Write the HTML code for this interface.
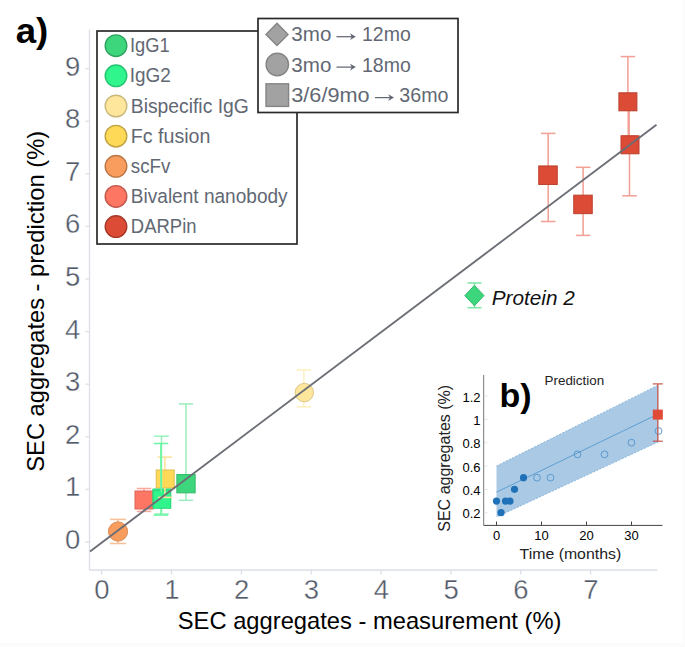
<!DOCTYPE html>
<html><head><meta charset="utf-8"><style>
html,body{margin:0;padding:0;background:#fff;width:685px;height:647px;overflow:hidden}
svg{display:block;font-family:"Liberation Sans",sans-serif}
</style></head><body>
<svg width="685" height="647" viewBox="0 0 685 647">
<rect x="0" y="0" width="685" height="647" fill="#fff"/>
<rect x="0" y="643" width="685" height="4" fill="#fbfbfb"/>
<rect x="683" y="0" width="2" height="647" fill="#fbfbfb"/>
<line x1="89.5" y1="29.5" x2="89.5" y2="570" stroke="#dcdfea" stroke-width="1.3"/>
<line x1="89" y1="570" x2="657.5" y2="570" stroke="#dcdfea" stroke-width="1.3"/>
<line x1="85.5" y1="542.0" x2="89.5" y2="542.0" stroke="#dcdfea" stroke-width="1.3"/>
<text x="80.3" y="548.9" text-anchor="end" font-size="27.5" fill="#525a68" stroke="#fff" stroke-width="0.35">0</text>
<line x1="85.5" y1="489.4" x2="89.5" y2="489.4" stroke="#dcdfea" stroke-width="1.3"/>
<text x="80.3" y="496.3" text-anchor="end" font-size="27.5" fill="#525a68" stroke="#fff" stroke-width="0.35">1</text>
<line x1="85.5" y1="436.8" x2="89.5" y2="436.8" stroke="#dcdfea" stroke-width="1.3"/>
<text x="80.3" y="443.7" text-anchor="end" font-size="27.5" fill="#525a68" stroke="#fff" stroke-width="0.35">2</text>
<line x1="85.5" y1="384.2" x2="89.5" y2="384.2" stroke="#dcdfea" stroke-width="1.3"/>
<text x="80.3" y="391.1" text-anchor="end" font-size="27.5" fill="#525a68" stroke="#fff" stroke-width="0.35">3</text>
<line x1="85.5" y1="331.6" x2="89.5" y2="331.6" stroke="#dcdfea" stroke-width="1.3"/>
<text x="80.3" y="338.5" text-anchor="end" font-size="27.5" fill="#525a68" stroke="#fff" stroke-width="0.35">4</text>
<line x1="85.5" y1="279.0" x2="89.5" y2="279.0" stroke="#dcdfea" stroke-width="1.3"/>
<text x="80.3" y="285.9" text-anchor="end" font-size="27.5" fill="#525a68" stroke="#fff" stroke-width="0.35">5</text>
<line x1="85.5" y1="226.4" x2="89.5" y2="226.4" stroke="#dcdfea" stroke-width="1.3"/>
<text x="80.3" y="233.3" text-anchor="end" font-size="27.5" fill="#525a68" stroke="#fff" stroke-width="0.35">6</text>
<line x1="85.5" y1="173.8" x2="89.5" y2="173.8" stroke="#dcdfea" stroke-width="1.3"/>
<text x="80.3" y="180.7" text-anchor="end" font-size="27.5" fill="#525a68" stroke="#fff" stroke-width="0.35">7</text>
<line x1="85.5" y1="121.2" x2="89.5" y2="121.2" stroke="#dcdfea" stroke-width="1.3"/>
<text x="80.3" y="128.1" text-anchor="end" font-size="27.5" fill="#525a68" stroke="#fff" stroke-width="0.35">8</text>
<line x1="85.5" y1="68.6" x2="89.5" y2="68.6" stroke="#dcdfea" stroke-width="1.3"/>
<text x="80.3" y="75.5" text-anchor="end" font-size="27.5" fill="#525a68" stroke="#fff" stroke-width="0.35">9</text>
<line x1="101.7" y1="570" x2="101.7" y2="574.5" stroke="#dcdfea" stroke-width="1.3"/>
<text x="102.0" y="598.6" text-anchor="middle" font-size="27.5" fill="#525a68" stroke="#fff" stroke-width="0.35">0</text>
<line x1="171.5" y1="570" x2="171.5" y2="574.5" stroke="#dcdfea" stroke-width="1.3"/>
<text x="171.8" y="598.6" text-anchor="middle" font-size="27.5" fill="#525a68" stroke="#fff" stroke-width="0.35">1</text>
<line x1="241.4" y1="570" x2="241.4" y2="574.5" stroke="#dcdfea" stroke-width="1.3"/>
<text x="241.7" y="598.6" text-anchor="middle" font-size="27.5" fill="#525a68" stroke="#fff" stroke-width="0.35">2</text>
<line x1="311.2" y1="570" x2="311.2" y2="574.5" stroke="#dcdfea" stroke-width="1.3"/>
<text x="311.5" y="598.6" text-anchor="middle" font-size="27.5" fill="#525a68" stroke="#fff" stroke-width="0.35">3</text>
<line x1="381.1" y1="570" x2="381.1" y2="574.5" stroke="#dcdfea" stroke-width="1.3"/>
<text x="381.4" y="598.6" text-anchor="middle" font-size="27.5" fill="#525a68" stroke="#fff" stroke-width="0.35">4</text>
<line x1="450.9" y1="570" x2="450.9" y2="574.5" stroke="#dcdfea" stroke-width="1.3"/>
<text x="451.2" y="598.6" text-anchor="middle" font-size="27.5" fill="#525a68" stroke="#fff" stroke-width="0.35">5</text>
<line x1="520.7" y1="570" x2="520.7" y2="574.5" stroke="#dcdfea" stroke-width="1.3"/>
<text x="521.0" y="598.6" text-anchor="middle" font-size="27.5" fill="#525a68" stroke="#fff" stroke-width="0.35">6</text>
<line x1="590.6" y1="570" x2="590.6" y2="574.5" stroke="#dcdfea" stroke-width="1.3"/>
<text x="590.9" y="598.6" text-anchor="middle" font-size="27.5" fill="#525a68" stroke="#fff" stroke-width="0.35">7</text>
<text x="177.81" y="628.50" textLength="383.65" lengthAdjust="spacingAndGlyphs" font-size="24" fill="#000">SEC aggregates - measurement (%)</text>
<text transform="translate(44.20,471.69) rotate(-90)" x="0" y="0" textLength="340.77" lengthAdjust="spacingAndGlyphs" font-size="24" fill="#000">SEC aggregates - prediction (%)</text>
<text x="15.67" y="43.20" textLength="32.56" lengthAdjust="spacingAndGlyphs" font-size="35.5" fill="#000" font-weight="bold">a)</text>
<g stroke="#f2a196" stroke-width="1.55" opacity="1"><line x1="548.2" y1="133.4" x2="548.2" y2="221.5"/><line x1="540.95" y1="133.4" x2="555.45" y2="133.4"/><line x1="540.95" y1="221.5" x2="555.45" y2="221.5"/></g>
<rect x="538.75" y="165.95" width="18.5" height="18.5" fill="#dc4b36" stroke="#bb3f2d" stroke-width="1"/>
<g stroke="#f2a196" stroke-width="1.55" opacity="1"><line x1="583.1" y1="167.3" x2="583.1" y2="235.4"/><line x1="575.85" y1="167.3" x2="590.35" y2="167.3"/><line x1="575.85" y1="235.4" x2="590.35" y2="235.4"/></g>
<rect x="573.75" y="195.15" width="18.5" height="18.5" fill="#dc4b36" stroke="#bb3f2d" stroke-width="1"/>
<g stroke="#f2a196" stroke-width="1.55" opacity="1"><line x1="627.9" y1="56.6" x2="627.9" y2="110"/><line x1="620.65" y1="56.6" x2="635.15" y2="56.6"/><line x1="620.65" y1="110" x2="635.15" y2="110"/></g>
<g stroke="#f2a196" stroke-width="1.55" opacity="1"><line x1="629.5" y1="136" x2="629.5" y2="195.8"/><line x1="622.25" y1="136" x2="636.75" y2="136"/><line x1="622.25" y1="195.8" x2="636.75" y2="195.8"/></g>
<g stroke="#f2a196" stroke-width="2.5" opacity="1"><line x1="628.7" y1="101.8" x2="628.7" y2="144.8"/></g>
<rect x="618.9" y="92.8" width="18" height="18" fill="#dc4b36" stroke="#bb3f2d" stroke-width="1"/>
<rect x="621.0" y="135.8" width="18" height="18" fill="#dc4b36" stroke="#bb3f2d" stroke-width="1"/>
<g stroke="#7fe6a6" stroke-width="1.55" opacity="1"><line x1="474.5" y1="283" x2="474.5" y2="307.7"/><line x1="467.5" y1="283" x2="481.5" y2="283"/><line x1="467.5" y1="307.7" x2="481.5" y2="307.7"/></g>
<path d="M474.4 285.40000000000003 L484.0 295.6 L474.4 305.8 L464.79999999999995 295.6 Z" fill="#3dd67c" stroke="#34b86a" stroke-width="1"/>
<text x="491.71" y="304.90" textLength="83.15" lengthAdjust="spacingAndGlyphs" font-size="21" fill="#111" font-style="italic">Protein 2</text>
<g stroke="#fdf0bf" stroke-width="1.55" opacity="1"><line x1="303.9" y1="370" x2="303.9" y2="406.8"/><line x1="296.65" y1="370" x2="311.15" y2="370"/><line x1="296.65" y1="406.8" x2="311.15" y2="406.8"/></g>
<circle cx="304.3" cy="392.6" r="9.2" fill="#fee79d" stroke="#dac687" stroke-width="1"/>
<g stroke="#f8bf98" stroke-width="1.55" opacity="1"><line x1="117.9" y1="519.4" x2="117.9" y2="543.5"/><line x1="109.9" y1="519.4" x2="125.9" y2="519.4"/><line x1="109.9" y1="543.5" x2="125.9" y2="543.5"/></g>
<circle cx="118" cy="531.5" r="9.6" fill="#f89d5e" stroke="#da8a52" stroke-width="1"/>
<g stroke="#f9a99f" stroke-width="1.55" opacity="1"><line x1="144" y1="488.5" x2="144" y2="511.4"/><line x1="136.75" y1="488.5" x2="151.25" y2="488.5"/><line x1="136.75" y1="511.4" x2="151.25" y2="511.4"/></g>
<rect x="135.0" y="491.0" width="18" height="18" fill="#fd7563" stroke="#de6657" stroke-width="1"/>
<g stroke="#fde29a" stroke-width="1.55" opacity="1"><line x1="164.9" y1="457.1" x2="164.9" y2="497.4"/><line x1="157.65" y1="457.1" x2="172.15" y2="457.1"/><line x1="157.65" y1="497.4" x2="172.15" y2="497.4"/></g>
<rect x="156.2" y="470.0" width="18" height="18" fill="#fed957" stroke="#dfbe4c" stroke-width="1"/>
<g stroke="#98f3be" stroke-width="1.55" opacity="1"><line x1="161.5" y1="436.2" x2="161.5" y2="513.9"/><line x1="154.25" y1="436.2" x2="168.75" y2="436.2"/><line x1="154.25" y1="513.9" x2="168.75" y2="513.9"/></g>
<g stroke="#6ef5a6" stroke-width="1.55" opacity="1"><line x1="161.0" y1="443.5" x2="161.0" y2="515.1"/><line x1="153.75" y1="443.5" x2="168.25" y2="443.5"/><line x1="153.75" y1="515.1" x2="168.25" y2="515.1"/></g>
<rect x="152.89999999999998" y="489.0" width="17.6" height="17.6" fill="#30f58c" stroke="#2ad77b" stroke-width="1"/>
<rect x="153.2" y="490.7" width="17.6" height="17.6" fill="#30f58c" stroke="#2ad77b" stroke-width="1"/>
<g stroke="#9eedc0" stroke-width="1.55" opacity="1"><line x1="186" y1="403.9" x2="186" y2="500.3"/><line x1="178.75" y1="403.9" x2="193.25" y2="403.9"/><line x1="178.75" y1="500.3" x2="193.25" y2="500.3"/></g>
<rect x="176.85" y="474.55" width="18.3" height="18.3" fill="#3dd67c" stroke="#34b86a" stroke-width="1"/>
<line x1="161.2" y1="443" x2="161.2" y2="492" stroke="#6ef5a6" stroke-width="1.6"/>
<line x1="164.9" y1="488" x2="164.9" y2="497.4" stroke="#fde29a" stroke-width="1.6"/><line x1="158" y1="497.4" x2="172" y2="497.4" stroke="#fde29a" stroke-width="1.6"/>
<line x1="90" y1="551.4" x2="656.5" y2="124.8" stroke="#6b6e75" stroke-width="1.9"/>
<rect x="97" y="31" width="200" height="213" fill="#fff" stroke="#2a2a2a" stroke-width="1.7"/>
<circle cx="116" cy="45.7" r="10.8" fill="#3dd67c" stroke="#2ea25e" stroke-width="1.4"/>
<text x="129.90" y="52.30" textLength="39.67" lengthAdjust="spacingAndGlyphs" font-size="19.3" fill="#626873">IgG1</text>
<circle cx="116" cy="75.85" r="10.8" fill="#30f58c" stroke="#26c470" stroke-width="1.4"/>
<text x="129.84" y="82.40" textLength="41.06" lengthAdjust="spacingAndGlyphs" font-size="19.3" fill="#626873">IgG2</text>
<circle cx="116" cy="106.0" r="10.8" fill="#fee79d" stroke="#cbb87d" stroke-width="1.4"/>
<text x="130.80" y="112.50" textLength="117.98" lengthAdjust="spacingAndGlyphs" font-size="19.3" fill="#626873">Bispecific IgG</text>
<circle cx="116" cy="136.14999999999998" r="10.8" fill="#fed957" stroke="#c1a442" stroke-width="1.4"/>
<text x="130.78" y="142.60" textLength="79.68" lengthAdjust="spacingAndGlyphs" font-size="19.3" fill="#626873">Fc fusion</text>
<circle cx="116" cy="166.3" r="10.8" fill="#f89d5e" stroke="#bc7747" stroke-width="1.4"/>
<text x="130.83" y="172.70" textLength="39.58" lengthAdjust="spacingAndGlyphs" font-size="19.3" fill="#626873">scFv</text>
<circle cx="116" cy="196.45" r="10.8" fill="#fd7563" stroke="#c0584b" stroke-width="1.4"/>
<text x="130.81" y="202.80" textLength="156.85" lengthAdjust="spacingAndGlyphs" font-size="19.3" fill="#626873">Bivalent nanobody</text>
<circle cx="116" cy="226.59999999999997" r="10.8" fill="#dc4b36" stroke="#a73929" stroke-width="1.4"/>
<text x="130.84" y="232.90" textLength="65.67" lengthAdjust="spacingAndGlyphs" font-size="19.3" fill="#626873">DARPin</text>
<rect x="258" y="18.5" width="200" height="94" fill="#fff" stroke="#2a2a2a" stroke-width="1.7"/>
<path d="M277 23.2 L288 34.4 L277 45.599999999999994 L266 34.4 Z" fill="#a2a2a2" stroke="#858585" stroke-width="1.4"/>
<circle cx="277.3" cy="64.5" r="11.2" fill="#a2a2a2" stroke="#858585" stroke-width="1.4"/>
<rect x="266.0" y="83.8" width="22.6" height="22.6" fill="#a2a2a2" stroke="#858585" stroke-width="1.4"/>
<text x="291.33" y="41.30" textLength="40.02" lengthAdjust="spacingAndGlyphs" font-size="19.3" fill="#626873">3mo</text>
<line x1="336.5" y1="36.7" x2="352.5" y2="36.7" stroke="#626873" stroke-width="1.25"/><path d="M355.8 36.7 L350.0 33.300000000000004 L351.7 36.7 L350.0 40.1 Z" fill="#626873"/>
<text x="361.99" y="41.30" textLength="48.75" lengthAdjust="spacingAndGlyphs" font-size="19.3" fill="#626873">12mo</text>
<text x="291.33" y="71.70" textLength="40.02" lengthAdjust="spacingAndGlyphs" font-size="19.3" fill="#626873">3mo</text>
<line x1="336.5" y1="67.1" x2="352.5" y2="67.1" stroke="#626873" stroke-width="1.25"/><path d="M355.8 67.1 L350.0 63.699999999999996 L351.7 67.1 L350.0 70.5 Z" fill="#626873"/>
<text x="361.99" y="71.70" textLength="48.75" lengthAdjust="spacingAndGlyphs" font-size="19.3" fill="#626873">18mo</text>
<text x="291.27" y="102.30" textLength="78.38" lengthAdjust="spacingAndGlyphs" font-size="19.3" fill="#626873">3/6/9mo</text>
<line x1="374.9" y1="97.6" x2="390.7" y2="97.6" stroke="#626873" stroke-width="1.25"/><path d="M394.0 97.6 L388.2 94.19999999999999 L389.9 97.6 L388.2 101.0 Z" fill="#626873"/>
<text x="399.38" y="102.30" textLength="49.16" lengthAdjust="spacingAndGlyphs" font-size="19.3" fill="#626873">36mo</text>
<rect x="432" y="366" width="250" height="200" fill="#fff"/>
<path d="M496.5 466.02000000000004 L658.5 384.91350000000006 L658.5 441.80475000000007 L496.5 517.0179 Z" fill="#a9c9e5"/>
<path d="M496.5 466.02000000000004 L658.5 384.91350000000006 M658.5 441.80475000000007 L496.5 517.0179" fill="none" stroke="#80b0da" stroke-width="0.9" stroke-dasharray="2,1.5"/>
<line x1="496.5" y1="492.16080000000005" x2="658.5" y2="413.85510000000005" stroke="#5e9fd2" stroke-width="1"/>
<circle cx="496.5" cy="501.03000000000003" r="3.6" fill="#1f72b8"/>
<circle cx="501.0" cy="512.7" r="3.6" fill="#1f72b8"/>
<circle cx="505.5" cy="501.03000000000003" r="3.6" fill="#1f72b8"/>
<circle cx="510.0" cy="501.03000000000003" r="3.6" fill="#1f72b8"/>
<circle cx="514.5" cy="489.36000000000007" r="3.6" fill="#1f72b8"/>
<circle cx="523.5" cy="477.69000000000005" r="3.6" fill="#1f72b8"/>
<circle cx="537.0" cy="477.69000000000005" r="3.4" fill="none" stroke="#5a9ad0" stroke-width="1"/>
<circle cx="550.5" cy="477.69000000000005" r="3.4" fill="none" stroke="#5a9ad0" stroke-width="1"/>
<circle cx="577.5" cy="454.3500000000001" r="3.4" fill="none" stroke="#5a9ad0" stroke-width="1"/>
<circle cx="604.5" cy="454.3500000000001" r="3.4" fill="none" stroke="#5a9ad0" stroke-width="1"/>
<circle cx="631.5" cy="442.68000000000006" r="3.4" fill="none" stroke="#5a9ad0" stroke-width="1"/>
<circle cx="658.5" cy="431.01000000000005" r="3.4" fill="none" stroke="#5a9ad0" stroke-width="1"/>
<line x1="483.7" y1="375" x2="483.7" y2="525.4" stroke="#777" stroke-width="1"/>
<line x1="483.7" y1="525.4" x2="662.5" y2="525.4" stroke="#444" stroke-width="1"/>
<line x1="484.2" y1="512.7" x2="487.5" y2="512.7" stroke="#ddd" stroke-width="0.8"/>
<text x="480.5" y="518.3" text-anchor="end" font-size="13" fill="#000">0.2</text>
<line x1="484.2" y1="489.4" x2="487.5" y2="489.4" stroke="#ddd" stroke-width="0.8"/>
<text x="480.5" y="495.0" text-anchor="end" font-size="13" fill="#000">0.4</text>
<line x1="484.2" y1="466.0" x2="487.5" y2="466.0" stroke="#ddd" stroke-width="0.8"/>
<text x="480.5" y="471.6" text-anchor="end" font-size="13" fill="#000">0.6</text>
<line x1="484.2" y1="442.7" x2="487.5" y2="442.7" stroke="#ddd" stroke-width="0.8"/>
<text x="480.5" y="448.3" text-anchor="end" font-size="13" fill="#000">0.8</text>
<line x1="484.2" y1="419.3" x2="487.5" y2="419.3" stroke="#ddd" stroke-width="0.8"/>
<text x="480.5" y="424.9" text-anchor="end" font-size="13" fill="#000">1</text>
<line x1="484.2" y1="396.0" x2="487.5" y2="396.0" stroke="#ddd" stroke-width="0.8"/>
<text x="480.5" y="401.6" text-anchor="end" font-size="13" fill="#000">1.2</text>
<line x1="496.5" y1="525.4" x2="496.5" y2="521.5" stroke="#444" stroke-width="1"/>
<text x="496.5" y="540.3" text-anchor="middle" font-size="13" fill="#000">0</text>
<line x1="541.5" y1="525.4" x2="541.5" y2="521.5" stroke="#444" stroke-width="1"/>
<text x="541.5" y="540.3" text-anchor="middle" font-size="13" fill="#000">10</text>
<line x1="586.5" y1="525.4" x2="586.5" y2="521.5" stroke="#444" stroke-width="1"/>
<text x="586.5" y="540.3" text-anchor="middle" font-size="13" fill="#000">20</text>
<line x1="631.5" y1="525.4" x2="631.5" y2="521.5" stroke="#444" stroke-width="1"/>
<text x="631.5" y="540.3" text-anchor="middle" font-size="13" fill="#000">30</text>
<text x="519.60" y="558.90" textLength="101.59" lengthAdjust="spacingAndGlyphs" font-size="15" fill="#222">Time (months)</text>
<text transform="translate(450.20,531.77) rotate(-90)" x="0" y="0" textLength="146.96" lengthAdjust="spacingAndGlyphs" font-size="16.5" fill="#222">SEC aggregates (%)</text>
<text x="544.57" y="385.10" textLength="59.57" lengthAdjust="spacingAndGlyphs" font-size="13" fill="#222">Prediction</text>
<text x="499.5" y="407.4" font-size="34" font-weight="bold" fill="#000">b)</text>
<g stroke="#c8574a" stroke-width="1.2" opacity="1"><line x1="657.8" y1="383.9" x2="657.8" y2="441.2"/><line x1="652.8" y1="383.9" x2="662.8" y2="383.9"/><line x1="652.8" y1="441.2" x2="662.8" y2="441.2"/></g>
<rect x="652.8" y="409.6" width="10" height="10" fill="#e04a36"/>
</svg>
</body></html>
